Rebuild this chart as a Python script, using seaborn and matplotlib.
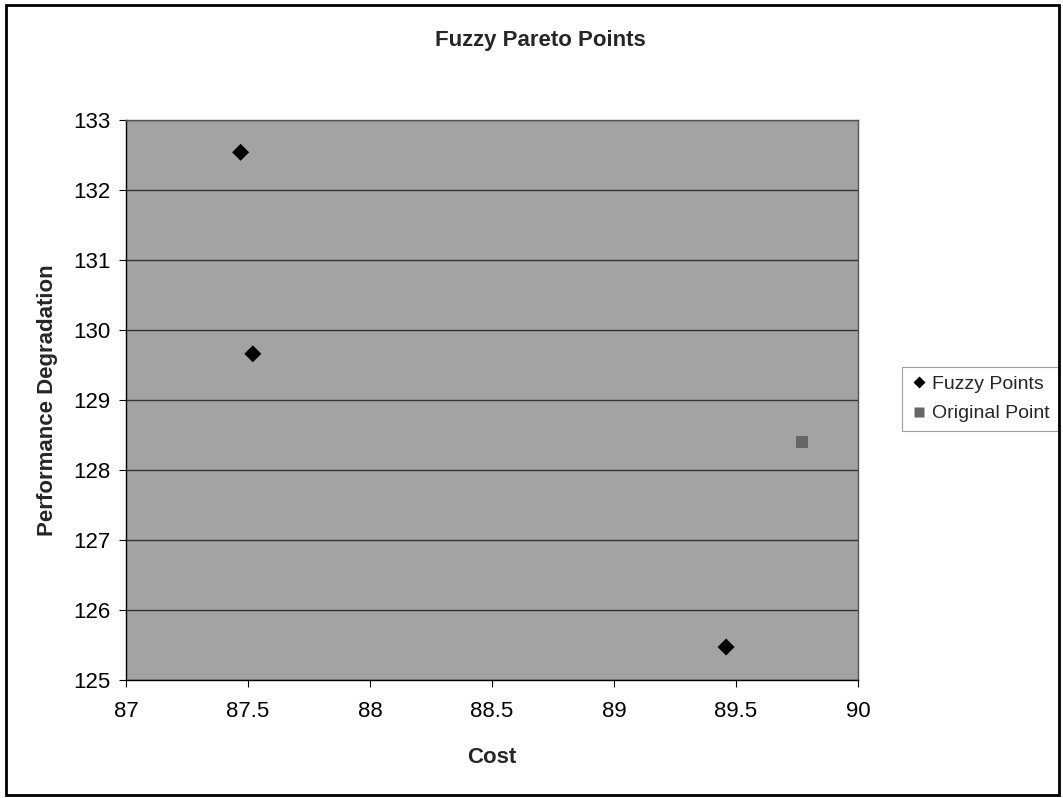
import matplotlib
matplotlib.use("Agg")
import matplotlib.pyplot as plt
import seaborn as sns
import pandas as pd
from matplotlib.patches import Rectangle

fuzzy_cost = [87.47, 87.52, 89.46]
fuzzy_perf = [132.54, 129.66, 125.47]
orig_cost = [89.77]
orig_perf = [128.40]
series_names = ["Fuzzy Points", "Original Point"]

df = pd.DataFrame({
    "Cost": fuzzy_cost + orig_cost,
    "Perf": fuzzy_perf + orig_perf,
    "Series": [series_names[0]] * len(fuzzy_cost) + [series_names[1]] * len(orig_cost),
})

sns.set_style("white")
plt.rcParams['font.family'] = ['Liberation Sans', 'DejaVu Sans']

fig = plt.figure(figsize=(10.63, 7.98), dpi=100)
ax = fig.add_axes([0.1185, 0.148, 0.6885, 0.7015])
ax.set_facecolor("#a3a3a3")

sns.scatterplot(data=df, x="Cost", y="Perf", hue="Series", style="Series",
                palette={series_names[0]: "black", series_names[1]: "#666666"},
                markers={series_names[0]: "D", series_names[1]: "s"},
                s=75, edgecolor="none", ax=ax, legend=True, zorder=3)

ax.set_xlim(87, 90)
ax.set_ylim(125, 133)
ax.set_xticks([87, 87.5, 88, 88.5, 89, 89.5, 90])
ax.set_xticklabels(["87", "87.5", "88", "88.5", "89", "89.5", "90"])
ax.set_yticks(range(125, 134))
ax.yaxis.grid(True, color="#333333", linewidth=1.0)
ax.set_axisbelow(True)
for sp in ax.spines.values():
    sp.set_color("#555555")
    sp.set_linewidth(1.0)
ax.spines["left"].set_color("black")
ax.spines["bottom"].set_color("black")
ax.tick_params(axis="both", which="both", length=5, direction="out", labelsize=16,
               bottom=True, left=True, colors="black")
ax.tick_params(axis="x", pad=10)
ax.tick_params(axis="y", pad=6)

ax.set_xlabel("Cost", fontsize=16, fontweight="bold", labelpad=18)
ax.set_ylabel("Performance Degradation", fontsize=16, fontweight="bold", labelpad=11)
fig.text(0.508, 0.949, "Fuzzy Pareto Points", ha="center", va="center",
         fontsize=16, fontweight="bold")

leg = ax.legend(loc="center left", bbox_to_anchor=(0.849, 0.5), bbox_transform=fig.transFigure,
                frameon=True, fontsize=14, handletextpad=0.25, borderpad=0.45,
                labelspacing=0.6, handlelength=0.8, borderaxespad=0,
                fancybox=False, markerscale=0.75)
leg.get_frame().set_edgecolor("#888888")
leg.get_frame().set_linewidth(0.8)

fig.patches.append(Rectangle((0.006, 0.004), 0.99, 0.99, transform=fig.transFigure,
                             fill=False, edgecolor="black", linewidth=2))

fig.savefig("out.png", dpi=100)
